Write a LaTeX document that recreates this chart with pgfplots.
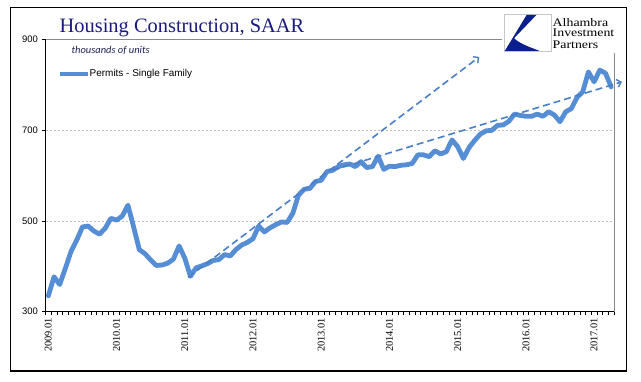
\documentclass[border=0pt]{standalone}
\usepackage{pgfplots}
\pgfplotsset{compat=1.18}
\usepackage{fontspec}
\setmainfont{Liberation Serif}
\setsansfont{Liberation Sans}
\newfontfamily\calibri{Carlito}
\newfontfamily\logofont[FakeStretch=1.2]{Liberation Serif}
\usetikzlibrary{arrows.meta}
\definecolor{lineblue}{HTML}{558ED5}
\definecolor{arrowblue}{HTML}{4A7EC6}
\definecolor{titlenavy}{HTML}{1A1A80}
\definecolor{subnavy}{HTML}{202058}
\definecolor{logonavy}{HTML}{0A1E8C}
\definecolor{gridgray}{HTML}{BFBFBF}
\definecolor{framegray}{HTML}{8A8A8A}
\begin{document}
\begin{tikzpicture}[x=1bp,y=1bp]
\useasboundingbox (0,0) rectangle (641,381);
\begin{axis}[
  scale only axis, width=568.5bp, height=272bp,
  at={(45.5bp,69.3bp)}, anchor=south west,
  xmin=-0.5, xmax=99.5, ymin=300, ymax=900,
  clip=false,
  axis line style={draw=none},
  tick align=outside,
  major tick length=3.5bp,
  tick style={black, line width=0.6bp},
  xtick pos=left, ytick pos=left,
  xtick={-0.5,0.5,...,99.5},
  xticklabels={},
  extra x ticks={0,12,24,36,48,60,72,84,96},
  extra x tick labels={2009.01,2010.01,2011.01,2012.01,2013.01,2014.01,2015.01,2016.01,2017.01},
  extra x tick style={major tick length=0pt, tick style={draw=none},
    tick label style={rotate=90, anchor=east, inner sep=0pt, outer sep=6.5bp, font=\fontsize{10.4}{11}\selectfont}},
  ytick={300,500,700,900},
  /pgf/number format/assume math mode=true,
  yticklabel style={font=\sffamily\fontsize{9.5}{10}\selectfont, inner sep=0pt},
  yticklabel shift=4bp,
  ymajorgrids,
  grid style={gridgray, line width=0.6bp, dash pattern=on 2.5bp off 1.5bp},
]
\addplot[color=lineblue, line width=4.8bp, line join=round, line cap=round, mark=none] coordinates {
(0,335) (1,377) (2,360) (3,396) (4,433) (5,458) (6,487) (7,489) (8,478) (9,471)
(10,484) (11,506) (12,502) (13,511) (14,535) (15,487) (16,437) (17,428) (18,414) (19,402)
(20,403) (21,407) (22,416) (23,445) (24,418) (25,378) (26,397) (27,401) (28,406) (29,413)
(30,415) (31,426) (32,423) (33,437) (34,447) (35,453) (36,461) (37,489) (38,476) (39,485)
(40,492) (41,498) (42,497) (43,517) (44,557) (45,570) (46,572) (47,587) (48,590) (49,609)
(50,612) (51,620) (52,624) (53,626) (54,620) (55,631) (56,618) (57,620) (58,643) (59,614)
(60,621) (61,620) (62,623) (63,624) (64,627) (65,646) (66,646) (67,642) (68,655) (69,648)
(70,653) (71,679) (72,664) (73,638) (74,662) (75,678) (76,692) (77,699) (78,700) (79,711)
(80,712) (81,720) (82,736) (83,733) (84,731) (85,731) (86,736) (87,731) (88,741) (89,734)
(90,719) (91,741) (92,748) (93,773) (94,785) (95,829) (96,807) (97,833) (98,826) (99,796)
};
\addplot[color=arrowblue, line width=1.6bp, dash pattern=on 7bp off 4bp,
  -{Straight Barb[length=4bp,width=8bp,line width=1.4bp]}] coordinates {(24.6,376) (75.8,862)};
\addplot[color=arrowblue, line width=1.6bp, dash pattern=on 7bp off 4bp,
  -{Straight Barb[length=4bp,width=8bp,line width=1.4bp]}] coordinates {(50,612) (100.9,807)};
\draw[black, line width=1bp] (rel axis cs:0,0) -- (rel axis cs:0,1);
\draw[black, line width=1bp] (rel axis cs:0,0) -- (rel axis cs:1,0);
\draw[framegray, line width=0.8bp] (rel axis cs:0,1) -- (rel axis cs:1,1);
\draw[framegray, line width=0.8bp] (rel axis cs:1,0) -- (rel axis cs:1,1);
\end{axis}
% title and notes
\node[anchor=base west, inner sep=0pt, text=titlenavy, font=\fontsize{20.5}{22}\selectfont] at (59.5,348.7) {Housing Construction, SAAR};
\node[anchor=base west, inner sep=0pt, text=subnavy, font=\calibri\itshape\fontsize{10.5}{12}\selectfont] at (71.5,327.7) {thousands of units};
% legend
\draw[lineblue, line width=4bp] (60,307) -- (88,307);
\node[anchor=west, inner sep=0pt, font=\sffamily\fontsize{10}{12}\selectfont] at (89.5,307) {Permits - Single Family};
% logo
\fill[white] (501.7,328) rectangle (625,372.3);
\draw[gray!45, line width=0.8bp, fill=white] (504.3,329.3) rectangle (551,367);
\fill[logonavy] (526.7,366.2) -- (536.5,366.2) -- (514,342.7) .. controls (521,336.5) and (531,333.5) .. (539.5,330.1) -- (504.8,330.1) -- cycle;
\node[anchor=base west, inner sep=0pt, font=\logofont\fontsize{11.6}{12}\selectfont] at (552.5,355) {Alhambra};
\node[anchor=base west, inner sep=0pt, font=\logofont\fontsize{11.6}{12}\selectfont] at (552.5,344.3) {Investment};
\node[anchor=base west, inner sep=0pt, font=\logofont\fontsize{11.6}{12}\selectfont] at (552.5,332.7) {Partners};
% frame
\draw[black, line width=1.3bp] (10.7,10) rectangle (626.5,373.7);
\end{tikzpicture}
\end{document}
